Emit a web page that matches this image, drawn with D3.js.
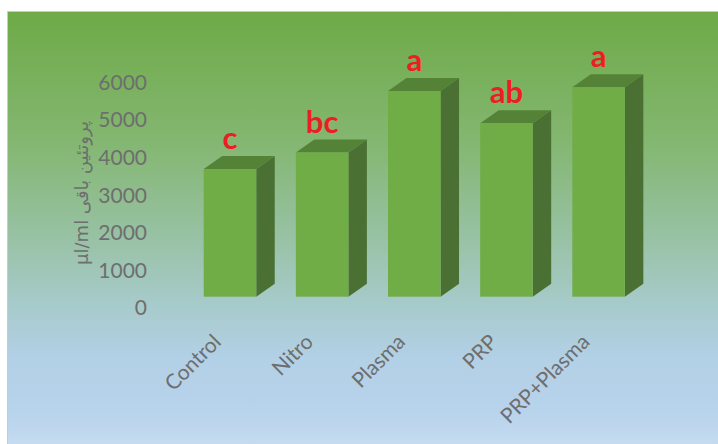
<!DOCTYPE html>
<html>
<head>
<meta charset="utf-8">
<script src="https://cdn.jsdelivr.net/npm/d3@7"></script>
<style>
  html, body { margin: 0; padding: 0; background: #ffffff; }
  svg { display: block; }
</style>
</head>
<body>
<div id="chart"></div>
<script>
// ---- data ----
const categories = ["Control", "Nitro", "Plasma", "PRP", "PRP+Plasma"];
const values = [3700, 4140, 5780, 4920, 5880];
const letters = ["c", "bc", "a", "ab", "a"];
const yTicks = [0, 1000, 2000, 3000, 4000, 5000, 6000];
const yTitle = "µl/ml پروتئین باقی";

// ---- layout ----
const W = 718, H = 444;
const svg = d3.select("#chart").append("svg")
  .attr("width", W).attr("height", H);

const defs = svg.append("defs");
const grad = defs.append("linearGradient")
  .attr("id", "bg").attr("x1", 0).attr("y1", 0).attr("x2", 0).attr("y2", 1);
[[0, "#6eaa47"], [0.3, "#84b772"], [0.5, "#97c1a2"], [0.65, "#a6cac8"],
 [0.78, "#b2d0e6"], [0.9, "#b8d3ec"], [1, "#c9def1"]].forEach(([o, c]) =>
  grad.append("stop").attr("offset", o).attr("stop-color", c));

svg.append("rect")
  .attr("x", 7.5).attr("y", 11.5).attr("width", W).attr("height", H)
  .attr("fill", "url(#bg)").attr("stroke", "#c9cdc4").attr("stroke-width", 1);

const x = d3.scaleBand()
  .domain(categories)
  .range([183.9, 644.65])
  .paddingInner(0.43)
  .paddingOuter(0.215);

const y = d3.scaleLinear().domain([0, 6000]).range([308, 82.7]);

const floorOffset = 11.3;   // bar floor sits slightly above the axis zero
const depthX = 18.5, depthY = 13;

// ---- y axis labels ----
const yAxis = d3.axisLeft(y).tickValues(yTicks).tickSize(0).tickPadding(0)
  .tickFormat(d3.format("d"));
const gy = svg.append("g").attr("transform", "translate(147,0)").call(yAxis);
gy.select(".domain").remove();
gy.selectAll("text")
  .attr("font-family", "Lato, sans-serif")
  .attr("font-size", 21)
  .attr("fill", "#6e6e6e");

// y title
svg.append("text")
  .attr("transform", "translate(88,193) rotate(-90)")
  .attr("text-anchor", "middle")
  .attr("direction", "ltr")
  .attr("font-family", "'DejaVu Sans', sans-serif")
  .attr("font-size", 18)
  .attr("fill", "#6e6e6e")
  .text(yTitle);

// ---- bars ----
const data = categories.map((c, i) => ({ c, v: values[i], l: letters[i] }));
const bars = svg.append("g").selectAll("g").data(data).join("g");

bars.each(function (d) {
  const g = d3.select(this);
  const x0 = x(d.c), x1 = x0 + x.bandwidth();
  const top = y(d.v), bot = y(0) - floorOffset;
  // side
  g.append("path")
    .attr("d", `M${x1},${top}L${x1 + depthX},${top - depthY}L${x1 + depthX},${bot - depthY}L${x1},${bot}Z`)
    .attr("fill", "#4a7034");
  // top
  g.append("path")
    .attr("d", `M${x0},${top}L${x0 + depthX},${top - depthY}L${x1 + depthX},${top - depthY}L${x1},${top}Z`)
    .attr("fill", "#548236");
  // front
  g.append("rect")
    .attr("x", x0).attr("y", top).attr("width", x.bandwidth()).attr("height", bot - top)
    .attr("fill", "#70ad47");
  // letter
  g.append("text")
    .attr("x", x0 + x.bandwidth() / 2)
    .attr("y", top - 20)
    .attr("text-anchor", "middle")
    .attr("font-family", "Lato, sans-serif")
    .attr("font-weight", "bold")
    .attr("font-size", 31)
    .attr("fill", "#ee1c25")
    .text(d.l);
});

// ---- category labels ----
svg.append("g").selectAll("text").data(categories).join("text")
  .attr("transform", d => `translate(${x(d) + x.bandwidth() / 2 - 13},338) rotate(-45)`)
  .attr("text-anchor", "end")
  .attr("dy", "0.35em")
  .attr("font-family", "Lato, sans-serif")
  .attr("font-size", 21)
  .attr("fill", "#6e6e6e")
  .text(d => d);
</script>
</body>
</html>
